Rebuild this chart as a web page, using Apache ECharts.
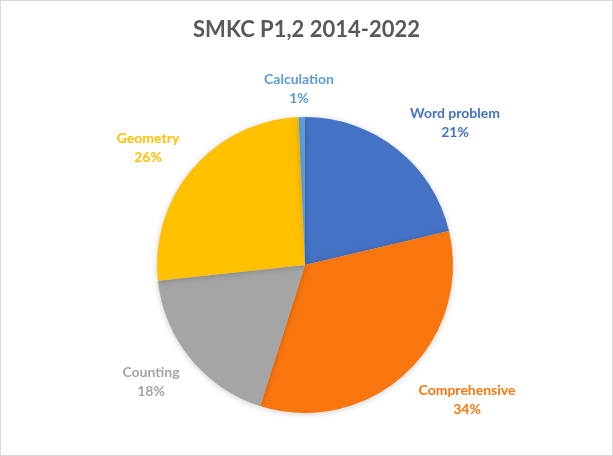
<!DOCTYPE html>
<html>
<head>
<meta charset="utf-8">
<script src="https://cdn.jsdelivr.net/npm/echarts@6/dist/echarts.min.js"></script>
<style>
html,body{margin:0;padding:0;background:#fff;}
#frame{position:absolute;left:0;top:0;width:611px;height:454px;border:1px solid #d9d9d9;}
#chart{width:613px;height:456px;position:absolute;left:0;top:0;}
</style>
</head>
<body>
<div id="frame"></div>
<div id="chart"></div>
<script>
const titleText = "SMKC P1,2 2014-2022";
const categories = ["Word problem", "Comprehensive", "Counting", "Geometry", "Calculation"];
const values = [21.3, 33.6, 18.4, 26.0, 0.7];
const colors = ["#4472C4", "#F9760E", "#A5A5A5", "#FFC000", "#5B9BD5"];
const labelPos = [[455, 123], [467, 400], [151, 382], [148, 148], [299, 89]];

const chart = echarts.init(document.getElementById('chart'));
chart.setOption({
  animation: false,
  title: {
    text: titleText,
    left: 'center',
    top: 14,
    textStyle: { fontFamily: 'Lato', fontWeight: 'bold', fontSize: 22, color: '#595959' }
  },
  series: [{
    type: 'pie',
    center: [305, 265],
    radius: 148,
    startAngle: 90,
    clockwise: true,
    percentPrecision: 0,
    data: categories.map((c, i) => ({ name: c, value: values[i], itemStyle: { color: colors[i] }, label: { color: colors[i] } })),
    itemStyle: { borderWidth: 0, shadowBlur: 6, shadowColor: 'rgba(0,0,0,0.2)', shadowOffsetY: 1 },
    label: {
      show: true,
      position: 'outside',
      formatter: '{b}\n{d}%',
      fontFamily: 'Lato',
      fontWeight: 'bold',
      fontSize: 14,
      lineHeight: 19,
      align: 'center'
    },
    labelLine: { show: false },
    labelLayout: function (p) {
      const pos = labelPos[p.dataIndex];
      return { x: pos[0], y: pos[1], align: 'center', verticalAlign: 'middle' };
    }
  }]
});
</script>
</body>
</html>
